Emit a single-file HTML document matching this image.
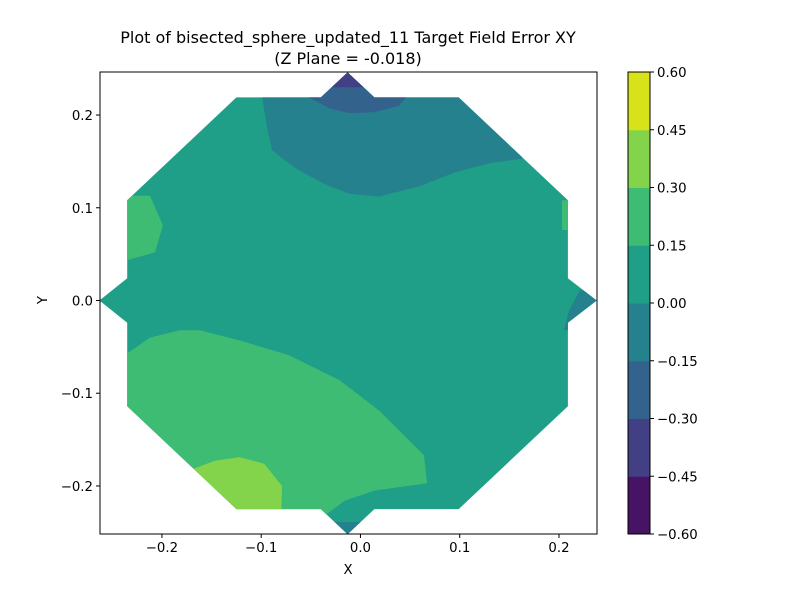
<!DOCTYPE html>
<html><head><meta charset="utf-8"><style>
body{margin:0;background:#fff}
svg{display:block;font-family:"DejaVu Sans","Liberation Sans",sans-serif}
</style></head><body>
<svg id="chart" width="800" height="600" viewBox="0 0 800 600" xmlns="http://www.w3.org/2000/svg">
<text x="348" y="43" font-size="16" text-anchor="middle">Plot of bisected_sphere_updated_11 Target Field Error XY</text>
<text x="348" y="64" font-size="16" text-anchor="middle">(Z Plane = -0.018)</text>
<text x="348" y="574" font-size="13.3" text-anchor="middle">X</text>
<text x="47" y="300" font-size="13.3" text-anchor="middle" transform="rotate(-90 47 300)">Y</text>
<g id="plot"></g>
</svg>
<script>
const levels=[-0.6,-0.45,-0.3,-0.15,0,0.15,0.3,0.45,0.6];
const bandColors=["#471365","#423f85","#33638d","#26818e","#1f9f88","#3fbc73","#84d44b","#d8e219"];
const xTicks=[-0.2,-0.1,0.0,0.1,0.2];
const yTicks=[-0.2,-0.1,0.0,0.1,0.2];
const domainOutline=[[-0.125,0.219],[-0.235,0.108],[-0.235,0.024],[-0.263,0],[-0.235,-0.024],[-0.235,-0.114],[-0.125,-0.225],[-0.040,-0.225],[-0.013,-0.252],[0.014,-0.225],[0.099,-0.225],[0.209,-0.114],[0.209,-0.024],[0.238,0],[0.209,0.024],[0.209,0.108],[0.099,0.219],[0.014,0.219],[-0.013,0.246],[-0.040,0.219]];
const regionTopNeg=[[-0.099,0.219],[-0.094,0.185],[-0.089,0.162],[-0.075,0.150],[-0.061,0.140],[-0.035,0.125],[-0.011,0.115],[0.019,0.112],[0.059,0.123],[0.095,0.138],[0.130,0.148],[0.162,0.153],[0.200,0.194],[0.2,0.26],[-0.099,0.26]];
const regionTopNeg2=[[-0.052,0.219],[-0.031,0.207],[-0.011,0.202],[0.014,0.203],[0.039,0.210],[0.046,0.219],[0.046,0.26],[-0.052,0.26]];
const regionTopNeg3=[[-0.029,0.230],[0.004,0.230],[0.004,0.26],[-0.029,0.26]];
const regionRightTip=[[0.205,-0.032],[0.210,-0.011],[0.221,0.011],[0.241,0.011],[0.241,-0.032]];
const regionRightGreen=[[0.203,0.108],[0.203,0.076],[0.215,0.076],[0.215,0.108]];
const regionLeftGreen=[[-0.243,0.113],[-0.212,0.113],[-0.199,0.081],[-0.207,0.052],[-0.243,0.041]];
const regionBottomGreen=[[-0.243,-0.063],[-0.212,-0.040],[-0.182,-0.032],[-0.162,-0.032],[-0.122,-0.043],[-0.072,-0.059],[-0.021,-0.086],[0.019,-0.119],[0.049,-0.151],[0.064,-0.167],[0.067,-0.197],[0.014,-0.205],[-0.016,-0.216],[-0.036,-0.232],[-0.243,-0.232]];
const regionLightGreen=[[-0.172,-0.183],[-0.147,-0.173],[-0.122,-0.169],[-0.097,-0.176],[-0.079,-0.200],[-0.080,-0.232],[-0.172,-0.232]];
const regionBottomTip=[[-0.031,-0.239],[0.005,-0.239],[0.005,-0.259],[-0.031,-0.259]];
const regions=[[regionTopNeg,3,"region-neg-015-0"],[regionTopNeg2,2,"region-neg-030-015"],[regionTopNeg3,1,"region-neg-045-030"],[regionRightTip,3,"region-right-tip"],[regionRightGreen,5,"region-right-green"],[regionLeftGreen,5,"region-left-green"],[regionBottomGreen,5,"region-bottom-green"],[regionLightGreen,6,"region-light-green"],[regionBottomTip,3,"region-bottom-tip"]];

const X0=100,X1=597,Y0=72,Y1=534,xmin=-0.2624,xmax=0.2383,ymin=-0.2518,ymax=0.2464;
const sx=v=>X0+(v-xmin)/(xmax-xmin)*(X1-X0);
const sy=v=>Y1-(v-ymin)/(ymax-ymin)*(Y1-Y0);
const NS="http://www.w3.org/2000/svg";
const g=document.getElementById('plot');
function mk(t,a,p){const e=document.createElementNS(NS,t);for(const k in a)e.setAttribute(k,a[k]);(p||g).appendChild(e);return e;}
const pts=arr=>arr.map(p=>sx(p[0]).toFixed(1)+","+sy(p[1]).toFixed(1)).join(" ");

const defs=mk('defs',{});
const cp=mk('clipPath',{id:'dom'},defs);
mk('polygon',{points:pts(domainOutline)},cp);
const base=mk('polygon',{points:pts(domainOutline),fill:bandColors[4]});


const rg=mk('g',{'clip-path':'url(#dom)'});


regions.forEach(r=>{const e=mk('polygon',{points:pts(r[0]),fill:bandColors[r[1]]},rg);

});

const frame=mk('rect',{x:X0,y:Y0,width:X1-X0,height:Y1-Y0,fill:'none',stroke:'#000','stroke-width':1});


xTicks.forEach(t=>{const x=sx(t);mk('line',{x1:x,x2:x,y1:Y1,y2:Y1+4,stroke:'#000'});
const l=mk('text',{x:x,y:Y1+18,'font-size':13.3,'text-anchor':'middle'});l.textContent=(t<0?'\u2212':'')+Math.abs(t).toFixed(1);

});
yTicks.forEach(t=>{const y=sy(t);mk('line',{x1:X0-4,x2:X0,y1:y,y2:y,stroke:'#000'});
const l=mk('text',{x:X0-7,y:y+5,'font-size':13.3,'text-anchor':'end'});l.textContent=(t<0?'\u2212':'')+Math.abs(t).toFixed(1);

});

const CX=628,CW=22,CY0=72,CY1=534;
const cy=v=>CY1-(v-levels[0])/(levels[levels.length-1]-levels[0])*(CY1-CY0);
bandColors.forEach((c,i)=>{const e=mk('rect',{x:CX,y:cy(levels[i+1]),width:CW,height:cy(levels[i])-cy(levels[i+1])+0.5,fill:c});

});
const cf=mk('rect',{x:CX,y:CY0,width:CW,height:CY1-CY0,fill:'none',stroke:'#000'});


levels.forEach(v=>{const y=cy(v);mk('line',{x1:CX+CW,x2:CX+CW+4,y1:y,y2:y,stroke:'#000'});
const l=mk('text',{x:CX+CW+7,y:y+5,'font-size':13.3});l.textContent=(v<0?'\u2212':'')+Math.abs(v).toFixed(2);

});
</script>
</body></html>
